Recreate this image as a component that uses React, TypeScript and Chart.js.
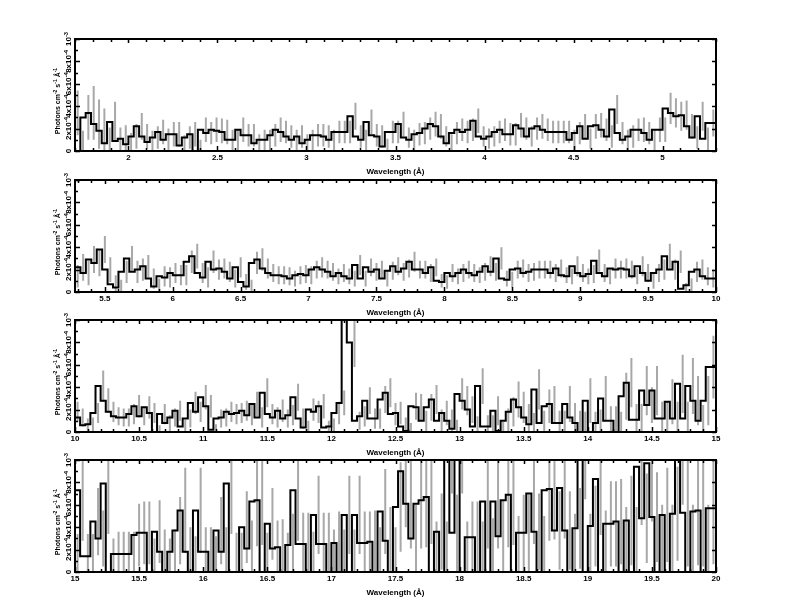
import React, { useEffect, useRef } from "react";
import { Chart, registerables } from "chart.js";

Chart.register(...registerables);

// ---------- shared axis data ----------
const FLUX_UNIT = 1e-5; // flux arrays are in units of 1e-5 photons cm^-2 s^-1 A^-1
const Y_MIN = 0;
const Y_MAX = 1e-3;
const yTickValues = [0, 2e-4, 4e-4, 6e-4, 8e-4, 1e-3];
const yTickLabels = ["0", "2x10^{-4}", "4x10^{-4}", "6x10^{-4}", "8x10^{-4}", "10^{-3}"];
const xTitle = "Wavelength (Å)";
const yTitle = "Photons cm^{-2} s^{-1} Å^{-1}";

// ---------- panel 1 ----------
const p1Range = [1.7, 5.3];
const p1Start = 1.7;
const p1BinWidth = 0.03;
const p1XTicks = [2, 2.5, 3, 3.5, 4, 4.5, 5];
const p1XLabels = ["2", "2.5", "3", "3.5", "4", "4.5", "5"];
const p1Flux = [
  34, 0, 30, 34, 24, 18, 7, 26, 9, 11,
  6, 13, 22, 13, 8, 12, 17, 10, 15, 15,
  5, 12, 15, 0, 19, 16, 19, 18, 17, 10,
  10, 19, 14, 14, 7, 10, 10, 14, 19, 17,
  13, 10, 13, 7, 10, 14, 14, 13, 10, 17,
  17, 17, 31, 13, 10, 26, 14, 13, 4, 17,
  17, 24, 12, 10, 15, 16, 20, 24, 22, 13,
  7, 16, 19, 17, 19, 27, 13, 11, 13, 17,
  19, 15, 15, 23, 20, 13, 20, 22, 19, 17,
  17, 17, 17, 10, 16, 22, 11, 22, 23, 19,
  13, 37, 16, 10, 13, 19, 19, 16, 10, 19,
  19, 38, 34, 31, 32, 22, 12, 31, 11, 25,
];
const p1Err = [
  20, 18, 20, 24, 22, 20, 14, 18, 12, 12,
  10, 11, 12, 11, 10, 10, 11, 10, 11, 11,
  9, 10, 11, 10, 11, 10, 11, 11, 11, 9,
  9, 11, 10, 10, 8, 9, 9, 10, 11, 10,
  10, 9, 10, 8, 9, 10, 10, 10, 9, 10,
  10, 10, 12, 10, 9, 11, 10, 10, 7, 10,
  10, 11, 9, 9, 10, 10, 10, 11, 11, 9,
  8, 10, 10, 10, 10, 11, 9, 9, 9, 10,
  10, 10, 10, 11, 10, 9, 10, 11, 10, 10,
  10, 10, 10, 9, 10, 11, 9, 11, 11, 10,
  10, 13, 10, 9, 10, 10, 11, 10, 9, 11,
  11, 14, 13, 13, 13, 11, 10, 13, 10, 12,
];

// ---------- panel 2 ----------
const p2Range = [5.28, 10];
const p2Start = 5.28;
const p2BinWidth = 0.04;
const p2XTicks = [5.5, 6, 6.5, 7, 7.5, 8, 8.5, 9, 9.5, 10];
const p2XLabels = ["5.5", "6", "6.5", "7", "7.5", "8", "8.5", "9", "9.5", "10"];
const p2Flux = [
  14, 22, 17, 29, 26, 38, 20, 7, 4, 18,
  30, 18, 20, 23, 12, 5, 14, 13, 17, 15,
  15, 27, 32, 17, 13, 27, 20, 21, 18, 12,
  22, 9, 5, 26, 29, 21, 17, 15, 15, 14,
  12, 15, 16, 15, 20, 22, 20, 18, 14, 17,
  14, 12, 24, 12, 22, 18, 20, 12, 19, 23,
  18, 21, 27, 20, 20, 17, 22, 10, 9, 17,
  14, 17, 20, 17, 15, 18, 23, 18, 30, 12,
  11, 20, 21, 17, 18, 20, 20, 20, 17, 21,
  15, 14, 23, 17, 14, 16, 28, 17, 14, 21,
  20, 21, 20, 14, 23, 17, 10, 17, 20, 32,
  20, 27, 3, 6, 18, 20, 14, 12,
];
const p2Err = [
  10, 12, 11, 12, 12, 12, 11, 8, 7, 10,
  11, 10, 10, 10, 9, 7, 9, 9, 9, 9,
  9, 10, 11, 9, 9, 10, 9, 9, 9, 8,
  9, 7, 6, 10, 10, 9, 8, 8, 8, 8,
  7, 8, 8, 8, 8, 9, 8, 8, 7, 8,
  7, 7, 9, 7, 8, 8, 8, 7, 8, 8,
  8, 8, 9, 8, 8, 8, 8, 6, 6, 8,
  7, 8, 8, 8, 7, 8, 9, 8, 10, 7,
  7, 8, 8, 8, 8, 8, 8, 8, 8, 8,
  7, 7, 9, 8, 7, 8, 10, 8, 7, 9,
  8, 9, 8, 7, 9, 8, 7, 8, 9, 11,
  9, 10, 5, 6, 9, 9, 8, 8,
];

// ---------- panel 3 ----------
const p3Range = [10, 15];
const p3Start = 10;
const p3BinWidth = 0.04;
const p3XTicks = [10, 10.5, 11, 11.5, 12, 12.5, 13, 13.5, 14, 14.5, 15];
const p3XLabels = ["10", "10.5", "11", "11.5", "12", "12.5", "13", "13.5", "14", "14.5", "15"];
const p3Flux = [
  18, 13, 6, 7, 17, 41, 28, 18, 14, 13,
  13, 16, 23, 14, 22, 17, 0, 16, 8, 13,
  19, 5, 12, 26, 18, 31, 23, 2, 12, 13,
  18, 16, 17, 19, 15, 25, 13, 35, 16, 13,
  19, 12, 15, 31, 12, 4, 20, 18, 23, 4,
  5, 17, 26, 140, 80, 10, 14, 28, 12, 12,
  29, 35, 16, 17, 5, 1, 23, 22, 10, 22,
  29, 10, 17, 10, 3, 34, 28, 20, 5, 41,
  5, 5, 19, 1, 10, 18, 29, 22, 13, 7,
  38, 8, 23, 25, 8, 8, 25, 13, 8, 0,
  28, 0, 8, 30, 10, 10, 0, 32, 44, 11,
  11, 37, 24, 37, 12, 12, 27, 12, 43, 12,
  41, 28, 10, 28, 58,
];
const p3Err = [
  9, 8, 6, 6, 9, 14, 11, 9, 8, 8,
  8, 9, 10, 8, 10, 9, 6, 9, 7, 8,
  9, 6, 8, 10, 9, 11, 10, 5, 8, 8,
  9, 9, 9, 9, 9, 11, 9, 13, 9, 9,
  10, 8, 9, 12, 9, 6, 10, 10, 11, 6,
  7, 10, 11, 30, 22, 8, 9, 12, 9, 9,
  12, 13, 10, 10, 8, 7, 12, 12, 9, 12,
  13, 10, 11, 10, 8, 14, 13, 12, 9, 16,
  10, 10, 13, 8, 11, 13, 16, 14, 12, 10,
  18, 11, 15, 16, 11, 11, 16, 13, 11, 18,
  20, 18, 12, 20, 13, 13, 18, 21, 22, 14,
  14, 22, 16, 22, 15, 15, 20, 15, 26, 15,
  25, 22, 14, 22, 28,
];

// ---------- panel 4 ----------
const p4Range = [15, 20];
const p4Start = 15;
const p4BinWidth = 0.04;
const p4XTicks = [15, 15.5, 16, 16.5, 17, 17.5, 18, 18.5, 19, 19.5, 20];
const p4XLabels = ["15", "15.5", "16", "16.5", "17", "17.5", "18", "18.5", "19", "19.5", "20"];
const p4Flux = [
  14, 73, 14, 14, 45, 30, 79, 0, 16, 16,
  16, 16, 33, 35, 35, 0, 36, 18, 0, 18,
  37, 55, 18, 0, 55, 18, 18, 0, 37, 18,
  79, 0, 0, 40, 21, 63, 64, 0, 43, 21,
  22, 0, 24, 73, 25, 25, 0, 51, 25, 25,
  0, 26, 0, 51, 0, 51, 26, 26, 27, 0,
  54, 28, 0, 58, 90, 61, 30, 61, 64, 67,
  0, 36, 0, 120, 35, 120, 0, 31, 31, 0,
  63, 0, 63, 32, 64, 69, 0, 35, 35, 70,
  36, 0, 73, 74, 37, 75, 37, 0, 39, 120,
  0, 41, 83, 0, 43, 43, 45, 0, 46, 0,
  94, 48, 97, 49, 0, 51, 0, 52, 120, 53,
  0, 54, 55, 0, 57,
];
const p4Err = [
  20, 45, 20, 20, 30, 25, 45, 30, 20, 20,
  20, 20, 28, 28, 28, 30, 28, 20, 30, 20,
  30, 38, 22, 32, 38, 22, 22, 32, 30, 22,
  45, 35, 35, 32, 25, 40, 40, 35, 32, 25,
  25, 35, 28, 45, 28, 28, 36, 35, 28, 28,
  38, 28, 38, 35, 38, 35, 28, 28, 28, 40,
  38, 30, 40, 40, 50, 40, 30, 40, 42, 42,
  45, 34, 45, 50, 34, 50, 45, 32, 32, 45,
  42, 48, 42, 32, 42, 45, 50, 34, 34, 45,
  34, 50, 45, 45, 35, 45, 35, 52, 36, 55,
  52, 36, 50, 55, 38, 38, 38, 58, 40, 58,
  52, 40, 52, 40, 60, 42, 60, 42, 60, 48,
  60, 48, 50, 60, 50,
];

// ---------- panel table built from the arrays ----------
const panels = [
  { top: 39, range: p1Range, start: p1Start, width: p1BinWidth, flux: p1Flux, err: p1Err, ticks: p1XTicks, labels: p1XLabels },
  { top: 180, range: p2Range, start: p2Start, width: p2BinWidth, flux: p2Flux, err: p2Err, ticks: p2XTicks, labels: p2XLabels },
  { top: 320, range: p3Range, start: p3Start, width: p3BinWidth, flux: p3Flux, err: p3Err, ticks: p3XTicks, labels: p3XLabels },
  { top: 460, range: p4Range, start: p4Start, width: p4BinWidth, flux: p4Flux, err: p4Err, ticks: p4XTicks, labels: p4XLabels },
];

const PLOT_H = 112;
const PAD_TOP = 14;
const PAD_BOTTOM = 30;
const PAD_LEFT = 75;
const PAD_RIGHT = 76;
const CANVAS_W = 792;
const CANVAS_H = PAD_TOP + PLOT_H + PAD_BOTTOM;
const FONT_FAMILY = '"Liberation Sans", Arial, Helvetica, sans-serif';

type Seg = { t: string; sup: boolean };

function parseRich(s: string): Seg[] {
  const segs: Seg[] = [];
  const re = /\^\{([^}]*)\}/g;
  let last = 0;
  let m: RegExpExecArray | null;
  while ((m = re.exec(s))) {
    if (m.index > last) segs.push({ t: s.slice(last, m.index), sup: false });
    segs.push({ t: m[1], sup: true });
    last = re.lastIndex;
  }
  if (last < s.length) segs.push({ t: s.slice(last), sup: false });
  return segs;
}

function drawRich(ctx: CanvasRenderingContext2D, s: string, x: number, y: number, size: number) {
  const segs = parseRich(s);
  const supSize = size * 0.72;
  let total = 0;
  const widths: number[] = [];
  for (const sg of segs) {
    ctx.font = `bold ${sg.sup ? supSize : size}px ${FONT_FAMILY}`;
    const w = ctx.measureText(sg.t).width;
    widths.push(w);
    total += w;
  }
  let cx = x - total / 2;
  ctx.textAlign = "left";
  ctx.textBaseline = "middle";
  segs.forEach((sg, i) => {
    ctx.font = `bold ${sg.sup ? supSize : size}px ${FONT_FAMILY}`;
    ctx.fillText(sg.t, cx, sg.sup ? y - size * 0.38 : y);
    cx += widths[i];
  });
}

function buildHist(start: number, w: number, flux: number[]) {
  const pts: { x: number; y: number }[] = flux.map((v, i) => ({ x: start + i * w, y: v * FLUX_UNIT }));
  pts.push({ x: start + flux.length * w, y: flux[flux.length - 1] * FLUX_UNIT });
  return pts;
}

function buildErr(start: number, w: number, flux: number[], err: number[]) {
  const pts: { x: number; y: number | null }[] = [];
  flux.forEach((v, i) => {
    const x = start + (i + 0.5) * w;
    const e = err[i];
    pts.push({ x, y: Math.max(0, v - e) * FLUX_UNIT });
    pts.push({ x, y: (v + e) * FLUX_UNIT });
    pts.push({ x, y: null });
  });
  return pts;
}

function makeOverlay(panel: (typeof panels)[number]) {
  return {
    id: "frameOverlay",
    afterDraw(chart: any) {
      const ctx: CanvasRenderingContext2D = chart.ctx;
      const xs = chart.scales.x;
      const ys = chart.scales.y;
      const { left, right, top, bottom } = chart.chartArea;
      ctx.save();
      ctx.strokeStyle = "#000";
      ctx.fillStyle = "#000";
      // frame
      ctx.lineWidth = 2;
      ctx.strokeRect(left, top, right - left, bottom - top);
      // x ticks (minor every 0.1, major every 0.5)
      ctx.lineWidth = 1.5;
      const kMin = Math.ceil(panel.range[0] * 10 - 1e-6);
      const kMax = Math.floor(panel.range[1] * 10 + 1e-6);
      ctx.beginPath();
      for (let k = kMin; k <= kMax; k++) {
        const px = Math.round(xs.getPixelForValue(k / 10)) + 0.5;
        const major = k % 5 === 0;
        const lenB = major ? 5 : 3;
        const lenT = major ? 4 : 3;
        ctx.moveTo(px, bottom);
        ctx.lineTo(px, bottom - lenB);
        ctx.moveTo(px, top);
        ctx.lineTo(px, top + lenT);
      }
      // y ticks (left every 1e-4, right every 2e-4)
      for (let k = 0; k <= 10; k++) {
        const py = Math.round(ys.getPixelForValue(k * 1e-4)) + 0.5;
        const major = k % 2 === 0;
        ctx.moveTo(left, py);
        ctx.lineTo(left + (major ? 5 : 3), py);
        if (major) {
          ctx.moveTo(right, py);
          ctx.lineTo(right - 4, py);
        }
      }
      ctx.stroke();
      // x tick labels
      panel.ticks.forEach((v, i) => {
        const px = xs.getPixelForValue(v);
        drawRich(ctx, panel.labels[i], px, bottom + 7, 8);
      });
      // x title
      drawRich(ctx, xTitle, (left + right) / 2, bottom + 21, 8);
      // y tick labels (rotated)
      yTickValues.forEach((v, i) => {
        const py = ys.getPixelForValue(v);
        ctx.save();
        ctx.translate(left - 6, py);
        ctx.rotate(-Math.PI / 2);
        drawRich(ctx, yTickLabels[i], 0, 0, 8);
        ctx.restore();
      });
      // y title
      ctx.save();
      ctx.translate(left - 17, (top + bottom) / 2 + 6);
      ctx.rotate(-Math.PI / 2);
      drawRich(ctx, yTitle, 0, 0, 7);
      ctx.restore();
      ctx.restore();
    },
  };
}

function Panel({ panel }: { panel: (typeof panels)[number] }) {
  const ref = useRef<HTMLCanvasElement | null>(null);
  useEffect(() => {
    if (!ref.current) return;
    const chart = new Chart(ref.current, {
      type: "line",
      data: {
        datasets: [
          {
            data: buildErr(panel.start, panel.width, panel.flux, panel.err) as any,
            borderColor: "#a8a8a8",
            borderWidth: 2,
            pointRadius: 0,
            spanGaps: false,
            borderCapStyle: "butt",
            order: 2,
          },
          {
            data: buildHist(panel.start, panel.width, panel.flux) as any,
            borderColor: "#000000",
            borderWidth: 2,
            pointRadius: 0,
            stepped: "after",
            borderJoinStyle: "miter",
            order: 1,
          },
        ],
      },
      options: {
        animation: false,
        responsive: false,
        events: [],
        layout: { padding: { left: PAD_LEFT, right: PAD_RIGHT, top: PAD_TOP, bottom: PAD_BOTTOM } },
        scales: {
          x: { type: "linear", min: panel.range[0], max: panel.range[1], display: false },
          y: { type: "linear", min: Y_MIN, max: Y_MAX, display: false },
        },
        plugins: { legend: { display: false }, tooltip: { enabled: false } },
      },
      plugins: [makeOverlay(panel)],
    });
    return () => chart.destroy();
  }, [panel]);
  return (
    <canvas
      ref={ref}
      width={CANVAS_W}
      height={CANVAS_H}
      style={{ position: "absolute", left: 0, top: panel.top - PAD_TOP, width: CANVAS_W, height: CANVAS_H }}
    />
  );
}

export default function App() {
  return (
    <div style={{ position: "absolute", left: 0, top: 0, width: 792, height: 612, background: "#fff" }}>
      {panels.map((p, i) => (
        <Panel key={i} panel={p} />
      ))}
    </div>
  );
}
